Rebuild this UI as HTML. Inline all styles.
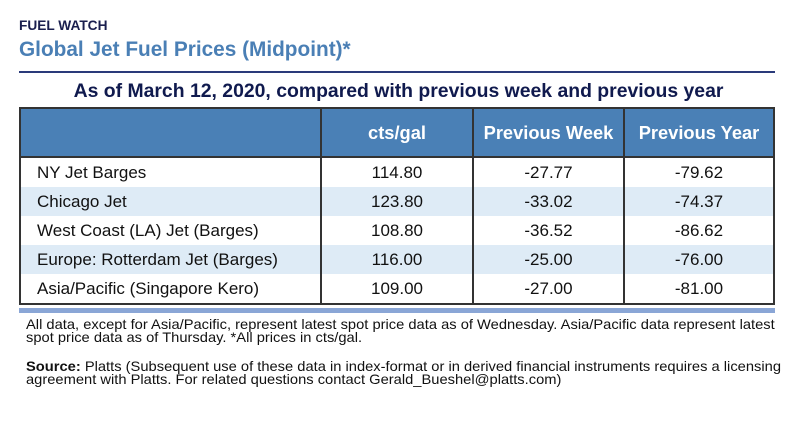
<!DOCTYPE html>
<html><head><style>
body{margin:0;width:803px;height:428px;background:#fff;font-family:"Liberation Sans",sans-serif;position:relative;overflow:hidden}
.a{position:absolute;white-space:nowrap}
table{position:absolute;left:19px;top:107px;border-collapse:collapse;width:756px}
td{height:29px;padding:0;font-size:17px;color:#111;text-align:center;border-left:2px solid #333;border-right:2px solid #333}
td:first-child{text-align:left;padding-left:16px}
tr.h td{background:#4a80b6;color:#fff;font-weight:bold;height:47px;font-size:18.3px;border:2px solid #333}
tr.alt td{background:#deebf6}
tr.last td{border-bottom:2px solid #333}
.n{font-size:14px;color:#111;transform:scaleX(1.05);transform-origin:0 0;line-height:13px}
</style></head><body>
<div class="a" style="left:19px;top:18px;font-size:13.7px;font-weight:bold;color:#1a1f4e">FUEL WATCH</div>
<div class="a" style="left:19px;top:38px;font-size:20.8px;font-weight:bold;color:#4a7fb5">Global Jet Fuel Prices (Midpoint)*</div>
<div class="a" style="left:19px;top:71px;width:756px;height:2px;background:#2a3a7a"></div>
<div class="a" style="left:0;width:797px;top:80px;text-align:center;font-size:19.4px;font-weight:bold;color:#101a4e">As of March 12, 2020, compared with previous week and previous year</div>
<table>
<tr class="h"><td style="width:283px"></td><td style="width:150px">cts/gal</td><td style="width:149px">Previous Week</td><td>Previous Year</td></tr>
<tr><td>NY Jet Barges</td><td>114.80</td><td>-27.77</td><td>-79.62</td></tr>
<tr class="alt"><td>Chicago Jet</td><td>123.80</td><td>-33.02</td><td>-74.37</td></tr>
<tr><td>West Coast (LA) Jet (Barges)</td><td>108.80</td><td>-36.52</td><td>-86.62</td></tr>
<tr class="alt"><td>Europe: Rotterdam Jet (Barges)</td><td>116.00</td><td>-25.00</td><td>-76.00</td></tr>
<tr class="last"><td>Asia/Pacific (Singapore Kero)</td><td>109.00</td><td>-27.00</td><td>-81.00</td></tr>
</table>
<div class="a" style="left:19px;top:308px;width:756px;height:5px;background:#8aa6d6"></div>
<div class="a n" style="left:26px;top:318px">All data, except for Asia/Pacific, represent latest spot price data as of Wednesday. Asia/Pacific data represent latest<br>spot price data as of Thursday. *All prices in cts/gal.</div>
<div class="a n" style="left:26px;top:360px"><b>Source:</b> Platts (Subsequent use of these data in index-format or in derived financial instruments requires a licensing<br>agreement with Platts. For related questions contact Gerald_Bueshel@platts.com)</div>
</body></html>
